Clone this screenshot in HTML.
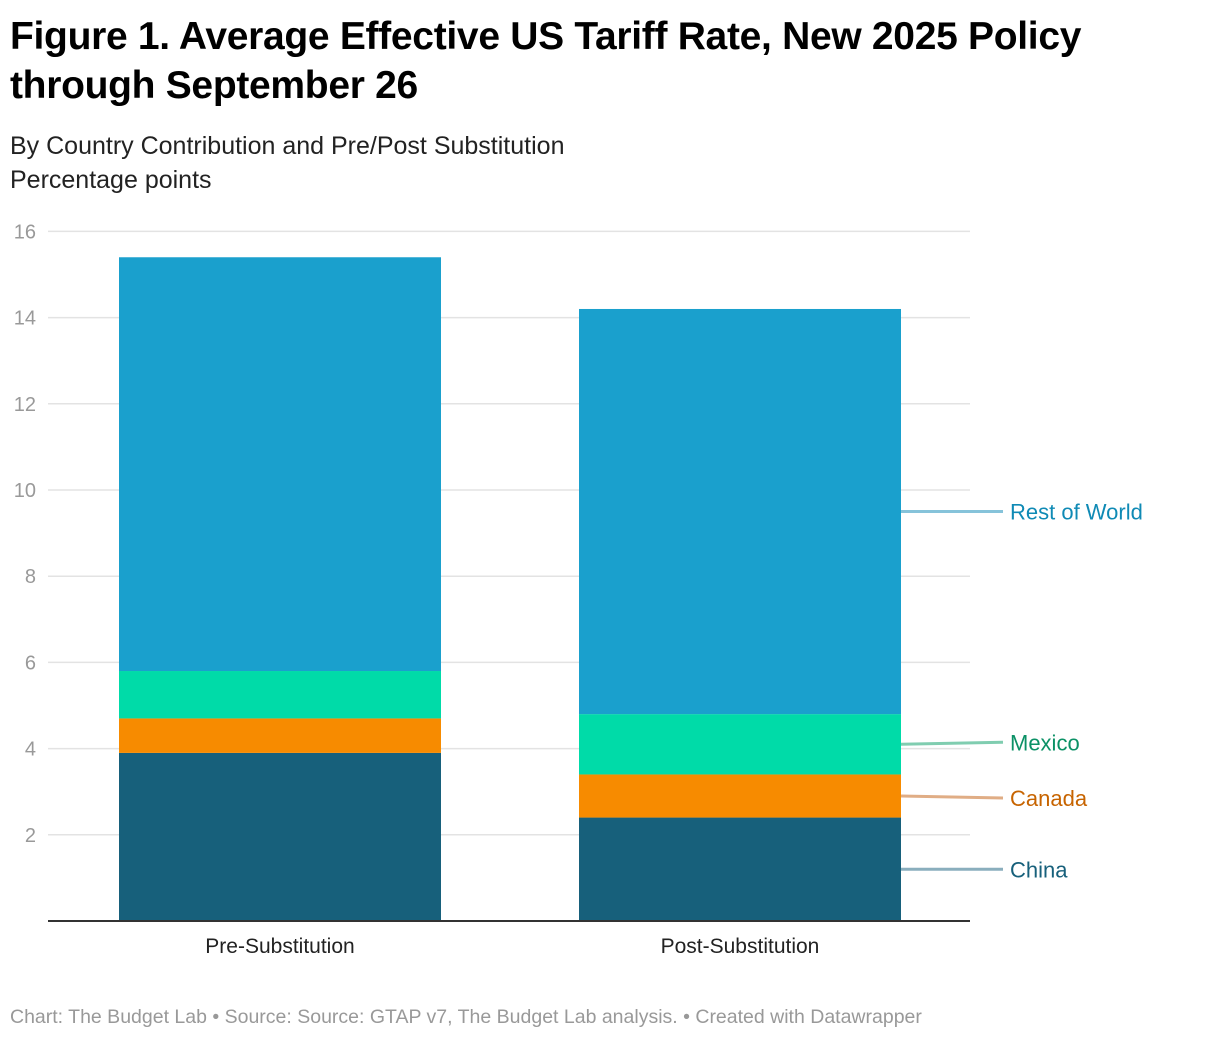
<!DOCTYPE html>
<html><head><meta charset="utf-8"><style>
body{margin:0;background:#fff;width:1220px;height:1044px;overflow:hidden;font-family:"Liberation Sans",sans-serif}
#t{position:absolute;left:10px;top:12px;font-size:39px;font-weight:bold;line-height:49px;color:#000;letter-spacing:-0.3px}
.s{position:absolute;left:10px;font-size:25px;color:#222}
#f{position:absolute;left:10px;top:1006px;font-size:19.5px;color:#999}
</style></head><body>
<div id="t">Figure 1. Average Effective US Tariff Rate, New 2025 Policy<br>through September 26</div>
<div class="s" style="top:132px">By Country Contribution and Pre/Post Substitution</div>
<div class="s" style="top:166px">Percentage points</div>
<svg id="c" width="1220" height="1044" style="position:absolute;left:0;top:0"></svg>
<div id="f">Chart: The Budget Lab • Source: Source: GTAP v7, The Budget Lab analysis. • Created with Datawrapper</div>
<script>
const categories=["Pre-Substitution","Post-Substitution"];
const series=["China","Canada","Mexico","Rest of World"];
const china=[3.9,2.4];
const canada=[0.8,1.0];
const mexico=[1.1,1.4];
const restOfWorld=[9.6,9.4];
const ticks=[2,4,6,8,10,12,14,16];
const colors=["#17607b","#f78b00","#00dba8","#1aa0cd"];
const labelColors=["#17607b","#c76400","#0b9166","#0f8ab5"];
const lineColors=["#8aaebd","#e0ad85","#80cdb0","#86c3da"];
const vals=[china,canada,mexico,restOfWorld];
const NS="http://www.w3.org/2000/svg",svg=document.getElementById('c');
const y=v=>921-v*43.1;
const bx=[119,579],bw=322;
function mk(t,a){const e=document.createElementNS(NS,t);for(const k in a)e.setAttribute(k,a[k]);svg.appendChild(e);return e;}
ticks.forEach(t=>{
 const g=mk('line',{x1:48,x2:970,y1:y(t),y2:y(t),stroke:'#e3e3e3','stroke-width':1.5});
 
 
 const l=mk('text',{x:36,y:y(t)+7,'text-anchor':'end','font-size':20,fill:'#999'});
 l.textContent=t;
 
 
});
categories.forEach((c,i)=>{
 let base=0;
 vals.forEach((s,j)=>{
  const r=mk('rect',{x:bx[i],width:bw,y:y(base+s[i]),height:y(base)-y(base+s[i]),fill:colors[j]});
  
  
  base+=s[i];
 });
 const t=mk('text',{x:bx[i]+bw/2,y:953,'text-anchor':'middle','font-size':21,fill:'#222'});
 t.textContent=c;
 
 
});
const ax=mk('line',{x1:48,x2:970,y1:921,y2:921,stroke:'#333','stroke-width':2});


// direct labels on post-substitution bar
const nudge=[0,2,-2,0];
let base=0;
vals.forEach((s,j)=>{
 const mid=y(base+s[1]/2);base+=s[1];
 const ly=mid+nudge[j];
 const ln=mk('line',{x1:901,y1:mid,x2:1003,y2:ly,stroke:lineColors[j],'stroke-width':3});
 
 
 const t=mk('text',{x:1010,y:ly+8,'font-size':22,fill:labelColors[j]});
 t.textContent=series[j];
 
 
});
</script>
</body></html>
